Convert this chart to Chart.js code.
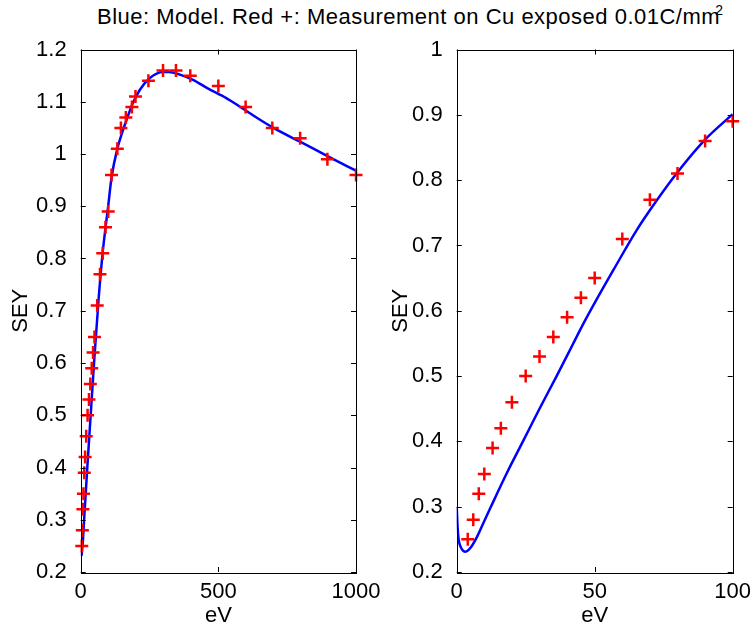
<!DOCTYPE html>
<html>
<head>
<meta charset="utf-8">
<script src="https://cdn.jsdelivr.net/npm/chart.js@4"></script>
<style>
  body { margin: 0; background: #fff; width: 753px; height: 632px; position: relative; overflow: hidden;
         font-family: "Liberation Sans", Arial, sans-serif; }
  #title { position: absolute; left: 97px; top: 4px; font-size: 22px; line-height: 25px; letter-spacing: 0.5px;
           white-space: nowrap; color: #000; }
  #title sup { font-size: 14px; line-height: 0; position: relative; top: -1px; margin-left: -5px; }
  canvas { position: absolute; top: 0; }
</style>
</head>
<body>
<div id="title">Blue: Model. Red +: Measurement on Cu exposed 0.01C/mm<sup>2</sup></div>
<canvas id="leftChart" width="381" height="632" style="left:0"></canvas>
<canvas id="rightChart" width="377" height="632" style="left:376px"></canvas>
<script>
const measEv  = [4, 6, 8, 10, 13, 16, 20, 25, 30, 35, 40, 45, 50, 60, 70, 80, 90, 100,
                 112, 133, 146, 164, 186, 199, 246, 299, 346, 398, 500, 599, 696, 797, 896, 1000];
const measSey = [0.25, 0.28, 0.32, 0.35, 0.39, 0.42, 0.46, 0.50, 0.53, 0.56, 0.59, 0.62, 0.65, 0.71, 0.77, 0.81, 0.86, 0.89,
                 0.96, 1.01, 1.05, 1.07, 1.09, 1.11, 1.14, 1.16, 1.16, 1.15, 1.13, 1.09, 1.05, 1.03, 0.99, 0.96];

// Model curve, low energy detail (right panel)
const lowModelEv  = [0, 0.3, 0.7, 1.5, 3.2, 5, 7.5, 10, 12.3, 18, 24, 30, 36.2, 42, 46, 50, 57, 65, 72, 80, 90, 100];
const lowModelSey = [0.30, 0.27, 0.25, 0.238, 0.231, 0.237, 0.255, 0.278, 0.299, 0.35, 0.40, 0.45, 0.50, 0.548, 0.581, 0.612, 0.664, 0.722, 0.766, 0.812, 0.862, 0.901];

// Model curve, full range (left panel)
const fullModelEv  = [3, 7.5, 12.3, 24, 36.2, 50, 65, 80, 100, 112, 133, 150, 167, 190, 215, 250, 299, 320, 360, 408,
                      460, 529, 580, 647, 700, 795, 900, 1000];
const fullModelSey = [0.231, 0.255, 0.299, 0.40, 0.50, 0.612, 0.722, 0.812, 0.901, 0.955, 1.01, 1.04, 1.066, 1.098, 1.123, 1.145, 1.157, 1.157, 1.152, 1.142,
                      1.126, 1.107, 1.09, 1.067, 1.05, 1.024, 0.995, 0.968];

Chart.defaults.font.family = '"Liberation Sans", Arial, sans-serif';
Chart.defaults.font.size = 22;
Chart.defaults.color = '#000';

// MATLAB style box with inward tick marks
const boxTicks = {
    id: 'boxTicks',
    afterDraw(chart) {
        const { ctx, chartArea: a, scales: { x, y } } = chart;
        ctx.save();
        ctx.strokeStyle = '#000';
        ctx.lineWidth = 1;
        ctx.beginPath();
        x.ticks.forEach(t => {
            const px = Math.round(x.getPixelForValue(t.value)) + 0.5;
            ctx.moveTo(px, a.bottom); ctx.lineTo(px, a.bottom - 5);
            ctx.moveTo(px, a.top); ctx.lineTo(px, a.top + 5);
        });
        y.ticks.forEach(t => {
            const py = Math.round(y.getPixelForValue(t.value)) + 0.5;
            ctx.moveTo(a.left, py); ctx.lineTo(a.left + 5, py);
            ctx.moveTo(a.right, py); ctx.lineTo(a.right - 5, py);
        });
        ctx.stroke();
        ctx.strokeRect(Math.round(a.left) + 0.5, Math.round(a.top) + 0.5,
                       Math.round(a.right - a.left), Math.round(a.bottom - a.top));
        ctx.restore();
    }
};

function toPoints(xs, ys) {
    return xs.map((x, i) => ({ x: x, y: ys[i] }));
}

function makeChart(canvasId, cfg) {
    const ctx = document.getElementById(canvasId).getContext('2d');
    return new Chart(ctx, {
        type: 'scatter',
        data: {
            datasets: [{
                type: 'line',
                data: cfg.model,
                borderColor: '#0000ff',
                borderWidth: 2.5,
                pointRadius: 0,
                cubicInterpolationMode: 'monotone',
                fill: false,
                order: 2
            }, {
                data: cfg.meas,
                pointStyle: 'cross',
                pointRadius: 6.5,
                pointBorderWidth: 2.5,
                borderColor: '#ff0000',
                backgroundColor: '#ff0000',
                showLine: false,
                clip: false,
                order: 1
            }]
        },
        options: {
            responsive: false,
            animation: false,
            layout: { padding: { top: 49.5, right: cfg.padRight, left: 0, bottom: 0 } },
            plugins: { legend: { display: false }, tooltip: { enabled: false } },
            scales: {
                x: {
                    type: 'linear',
                    min: cfg.xMin, max: cfg.xMax,
                    grid: { display: false },
                    border: { display: false },
                    ticks: { stepSize: cfg.xStep, padding: -1, maxRotation: 0, autoSkip: false,
                             callback: v => String(v) },
                    title: { display: true, text: 'eV', padding: { top: 0, bottom: 3 } },
                    afterFit: s => { s.height = 60; s.paddingLeft = 0; s.paddingRight = 0; }
                },
                y: {
                    type: 'linear',
                    min: cfg.yMin, max: cfg.yMax,
                    grid: { display: false },
                    border: { display: false },
                    ticks: { stepSize: 0.1, padding: 6, autoSkip: false,
                             callback: v => String(+v.toFixed(1)) },
                    title: { display: true, text: 'SEY', padding: { top: cfg.yTitlePad, bottom: 0 } },
                    afterFit: s => { s.width = 80.7; s.paddingTop = 0; s.paddingBottom = 0; }
                }
            }
        },
        plugins: [boxTicks]
    });
}

makeChart('leftChart', {
    model: toPoints(fullModelEv, fullModelSey),
    meas: toPoints(measEv, measSey),
    xMin: 0, xMax: 1000, xStep: 500,
    yMin: 0.2, yMax: 1.2,
    padRight: 25, yTitlePad: 8
});

makeChart('rightChart', {
    model: toPoints(lowModelEv, lowModelSey),
    meas: toPoints(measEv, measSey).filter(p => p.x <= 100),
    xMin: 0, xMax: 100, xStep: 50,
    yMin: 0.2, yMax: 1.0,
    padRight: 20.3, yTitlePad: 12
});
</script>
</body>
</html>
